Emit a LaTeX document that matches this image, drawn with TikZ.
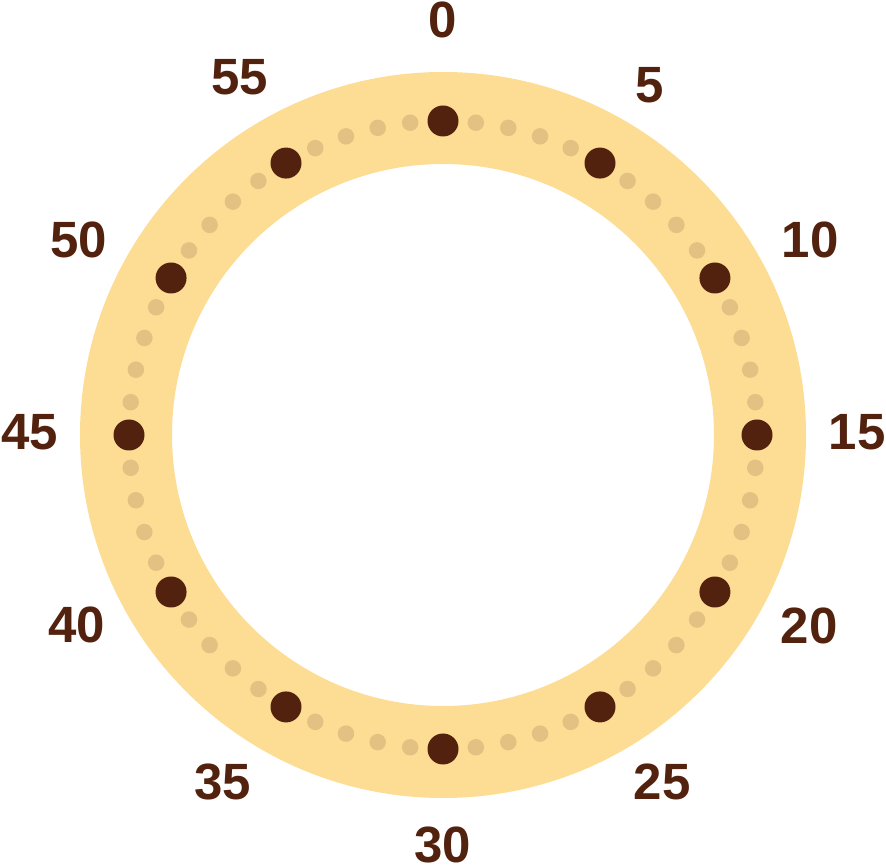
\documentclass[tikz,border=0pt]{standalone}
\usepackage{fontspec}
\setmainfont{Liberation Sans}
\usetikzlibrary{calc}
\definecolor{ringc}{HTML}{FDDC93}
\definecolor{brownc}{HTML}{52220E}
\definecolor{smalldotc}{HTML}{E3C183}
\tikzset{
  bigdot/.style={circle, fill=brownc, inner sep=0pt, minimum size=31pt},
  smalldot/.style={circle, fill=smalldotc, inner sep=0pt, minimum size=16.5pt},
  minlabel/.style={text=brownc, font=\fontsize{51pt}{51pt}\selectfont\bfseries, inner sep=0pt, anchor=center}
}
\begin{document}
\begin{tikzpicture}[x=1pt,y=1pt]
\useasboundingbox (0,0) rectangle (886,865);
\coordinate (c) at (443,430);
\draw[ringc, line width=92pt] (c) circle[radius=317];
\foreach \m in {0,...,59}{
  \pgfmathtruncatemacro{\r}{mod(\m,5)}
  \ifnum\r=0
    \node[bigdot] (d\m) at ($(c)+({90-6*\m}:314)$) {};
  \else
    \node[smalldot] (d\m) at ($(c)+({90-6*\m}:314)$) {};
  \fi
}
\foreach \m/\x/\y in {0/443/845, 5/650/780, 10/810/625, 15/857/433, 20/809/239, 25/662/83, 30/443/20, 35/223/83, 40/77/240, 45/30/433, 50/79/625, 55/240/788}{
  \node[minlabel] (l\m) at (\x,\y) {\m};
}
\end{tikzpicture}
\end{document}
